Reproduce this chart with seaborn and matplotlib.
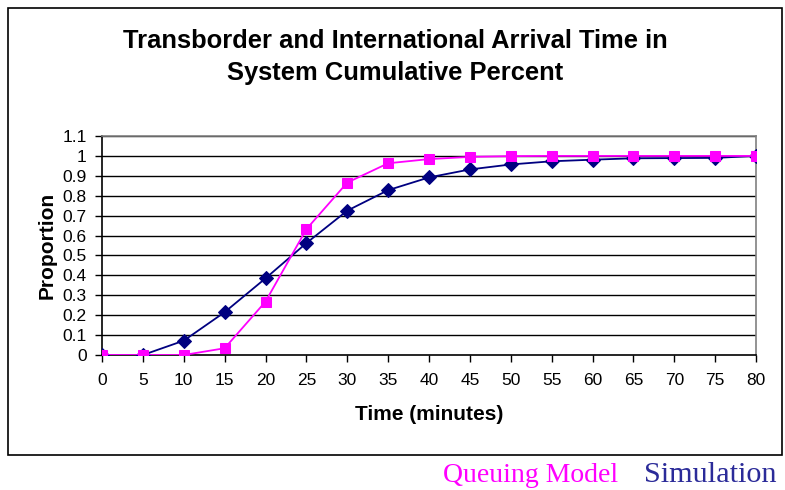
import matplotlib
matplotlib.use("Agg")
import matplotlib.pyplot as plt
import seaborn as sns
import pandas as pd
from matplotlib.patches import Rectangle

time_min = [0, 5, 10, 15, 20, 25, 30, 35, 40, 45, 50, 55, 60, 65, 70, 75, 80]
simulation = [0, 0, 0.072, 0.215, 0.385, 0.562, 0.725, 0.828, 0.892, 0.932, 0.957,
              0.973, 0.981, 0.988, 0.989, 0.990, 1.0]
queuing = [0, 0, 0, 0.034, 0.268, 0.632, 0.866, 0.963, 0.984, 0.995, 0.999,
           1.0, 1.0, 1.0, 1.0, 1.0, 1.0]
y_ticks = [0, 0.1, 0.2, 0.3, 0.4, 0.5, 0.6, 0.7, 0.8, 0.9, 1, 1.1]
y_tick_labels = ["0", "0.1", "0.2", "0.3", "0.4", "0.5", "0.6", "0.7", "0.8", "0.9", "1", "1.1"]

sns.set_style("white")
plt.rcParams['font.family'] = ['Liberation Sans', 'DejaVu Sans']
plt.rcParams['text.color'] = 'black'
plt.rcParams['axes.labelcolor'] = 'black'
plt.rcParams['xtick.color'] = 'black'
plt.rcParams['ytick.color'] = 'black'

fig = plt.figure(figsize=(7.85, 4.9), dpi=100)
ax = fig.add_axes([102/785, 1 - 355/490, (756-102)/785, (355-136)/490])

df_sim = pd.DataFrame({"Time": time_min, "Proportion": simulation})
df_q = pd.DataFrame({"Time": time_min, "Proportion": queuing})

for y in y_ticks[1:]:
    ax.axhline(y, color="black", lw=1.0, zorder=0)

sns.lineplot(data=df_sim, x="Time", y="Proportion", ax=ax, color="#000080",
             marker="D", markersize=7, markeredgecolor="#000080", lw=1.3, zorder=3)
sns.lineplot(data=df_q, x="Time", y="Proportion", ax=ax, color="#FF00FF",
             marker="s", markersize=7, markeredgecolor="#FF00FF", lw=1.3, zorder=4)

ax.set_xlim(0, 80)
ax.set_ylim(0, 1.1)
ax.set_xticks(time_min)
ax.set_xticklabels([str(t) for t in time_min], fontsize=12.5)
ax.set_yticks(y_ticks)
ax.set_yticklabels(y_tick_labels, fontsize=12.5)
ax.tick_params(axis="x", direction="out", length=5, width=1, color="black",
               bottom=True, pad=8)
ax.tick_params(axis="y", direction="out", length=5, width=1, color="black",
               left=True, pad=6)
for side in ["top", "right"]:
    ax.spines[side].set_color("#808080")
    ax.spines[side].set_linewidth(1.2)
for side in ["left", "bottom"]:
    ax.spines[side].set_color("black")
    ax.spines[side].set_linewidth(1.2)
for s in ax.spines.values():
    s.set_clip_on(False)
ax.set_xlabel("Time (minutes)", fontsize=15, fontweight="bold", labelpad=12)
ax.set_ylabel("Proportion", fontsize=15, fontweight="bold", labelpad=4)

fig.text(395/785, 1 - 57/490, "Transborder and International Arrival Time in\nSystem Cumulative Percent",
         ha="center", va="center", fontsize=18.4, fontweight="bold", linespacing=1.45)

fig.patches.append(Rectangle((8/785, 1 - 455/490), (782-8)/785, (455-8)/490,
                             transform=fig.transFigure, fill=False, ec="black", lw=1.2))

fig.text(531/785, 1 - 475/490, "Queuing Model", ha="center", va="center",
         fontsize=20, color="#FF00FF", family=["Liberation Serif"])
fig.text(710/785, 1 - 475/490, "Simulation", ha="center", va="center",
         fontsize=21.8, color="#2B2B99", family=["Liberation Serif"])

fig.savefig("out.png", dpi=100)
